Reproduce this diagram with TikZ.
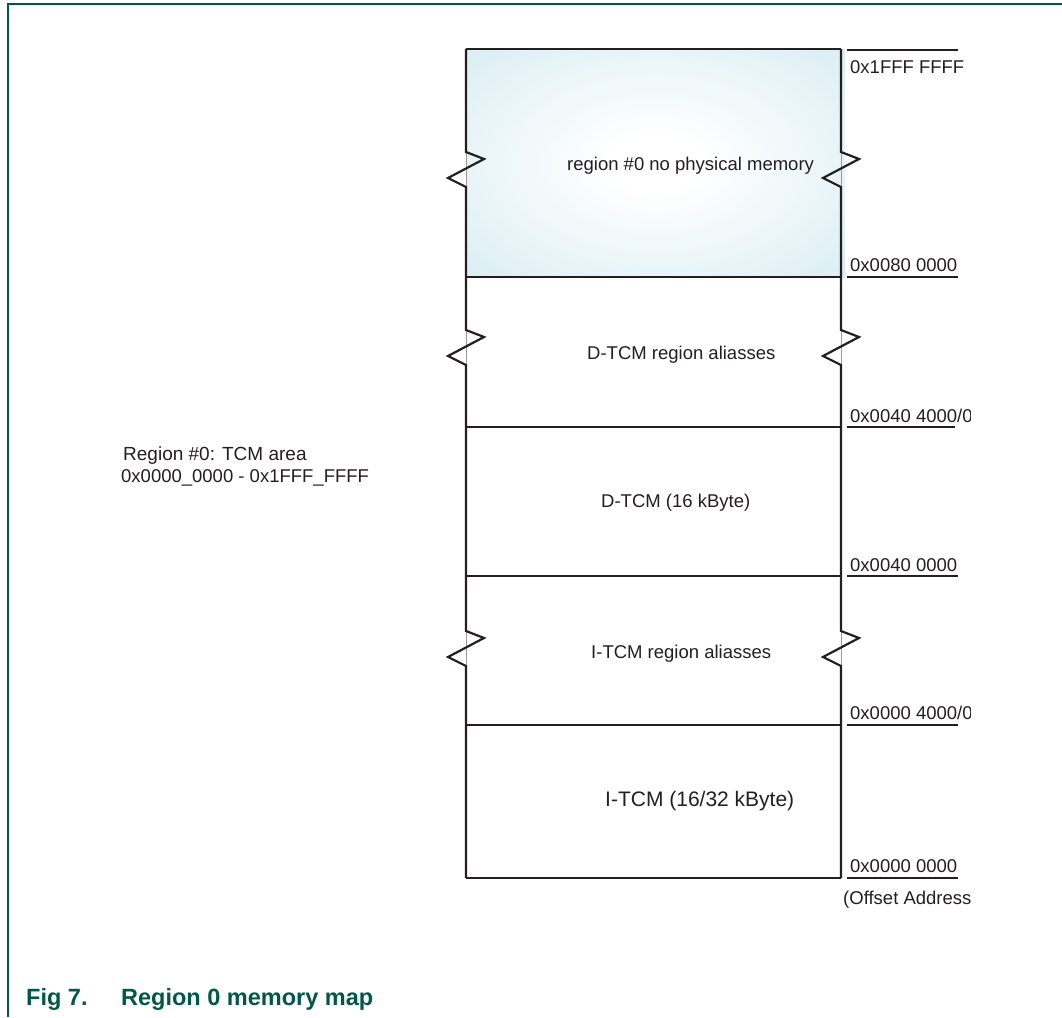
\documentclass[tikz,border=0pt]{standalone}
\usepackage{fontspec}
\setmainfont{Liberation Sans}
\definecolor{nxpgreen}{HTML}{00574B}
\definecolor{ink}{HTML}{231F20}
\definecolor{lblue}{HTML}{CDE8F0}
\pgfdeclareradialshading{memglow}{\pgfpoint{0bp}{0bp}}{color(0bp)=(white); color(6bp)=(white); color(46bp)=(lblue); color(80bp)=(lblue)}
\begin{document}
\begin{tikzpicture}[x=1pt,y=-1pt,
  heavy/.style={line width=2.2pt, draw=ink, line join=miter},
  thinedge/.style={line width=0.7pt, draw=gray!80},
  lbl/.style={font=\fontsize{18.5}{22}\selectfont, text=ink, inner sep=0pt, anchor=base west},
  inlbl/.style={font=\fontsize{18.5}{22}\selectfont, text=ink, inner sep=0pt, anchor=base west},
  figcap/.style={font=\bfseries\fontsize{23.5}{27}\selectfont, text=nxpgreen, inner sep=0pt, anchor=base west}]
\useasboundingbox (0,0) rectangle (1062,1017);
% frame
\draw[nxpgreen, line width=2pt] (8,1017) -- (8,4) -- (1062,4);
% shaded region #0
\shade[shading=memglow] (466,49) rectangle (845,277);
% thin edges behind break symbols
\foreach \xx in {466,841} {
  \draw[thinedge] (\xx,152) -- (\xx,187);
  \draw[thinedge] (\xx,330) -- (\xx,365);
  \draw[thinedge] (\xx,631) -- (\xx,666);
}
% sides with break symbols
\foreach \xx in {466,841} {
  \draw[heavy] (\xx,49) -- (\xx,152) -- (\xx+18,159) -- (\xx-18,178) -- (\xx,187)
     -- (\xx,330) -- (\xx+18,337) -- (\xx-18,356) -- (\xx,365)
     -- (\xx,631) -- (\xx+18,638) -- (\xx-18,657) -- (\xx,666)
     -- (\xx,878);
}
% horizontal row lines
\foreach \yy in {49,277,427,576,725,878} {
  \draw[heavy] (466,\yy) -- (841,\yy);
}
% address ticks
\foreach \yy in {50,277,576,725,878} {
  \draw[heavy] (847,\yy) -- (958,\yy);
}
\draw[heavy] (847,427) -- (955,427);
% region texts
\node[inlbl] (r0) at (567,170) {region \#0 no physical memory};
\node[inlbl] (dal) at (587,359) {D-TCM region aliasses};
\node[inlbl] (dtcm) at (601,507) {D-TCM (16 kByte)};
\node[inlbl] (ial) at (591,658) {I-TCM region aliasses};
\node[lbl, font=\fontsize{21}{24}\selectfont] (itcm) at (605,806) {I-TCM (16/32 kByte)};
% address labels
\node[lbl] (a1) at (850,73) {0x1FFF FFFF};
\node[lbl] (a2) at (850,271) {0x0080 0000};
\node[lbl] (a4) at (850,571) {0x0040 0000};
\node[lbl] (a6) at (850,872) {0x0000 0000};
% labels cut at the right, as printed
\begin{scope}
\clip (0,0) rectangle (970,1017);
\node[lbl] (a3) at (850,422) {0x0040 4000/0};
\node[lbl] (a5) at (850,719) {0x0000 4000/0};
\node[lbl] (a7) at (843,904) {(Offset Address};
\end{scope}
% left description
\node[lbl, font=\fontsize{19}{22}\selectfont] (desc1) at (123,460) {Region \#0: TCM area};
\node[lbl] (desc2) at (121,482) {0x0000\_0000 - 0x1FFF\_FFFF};
% caption
\node[figcap] (fignum) at (26,1005) {Fig 7.};
\node[figcap] (figtxt) at (121,1005) {Region 0 memory map};
\end{tikzpicture}
\end{document}
